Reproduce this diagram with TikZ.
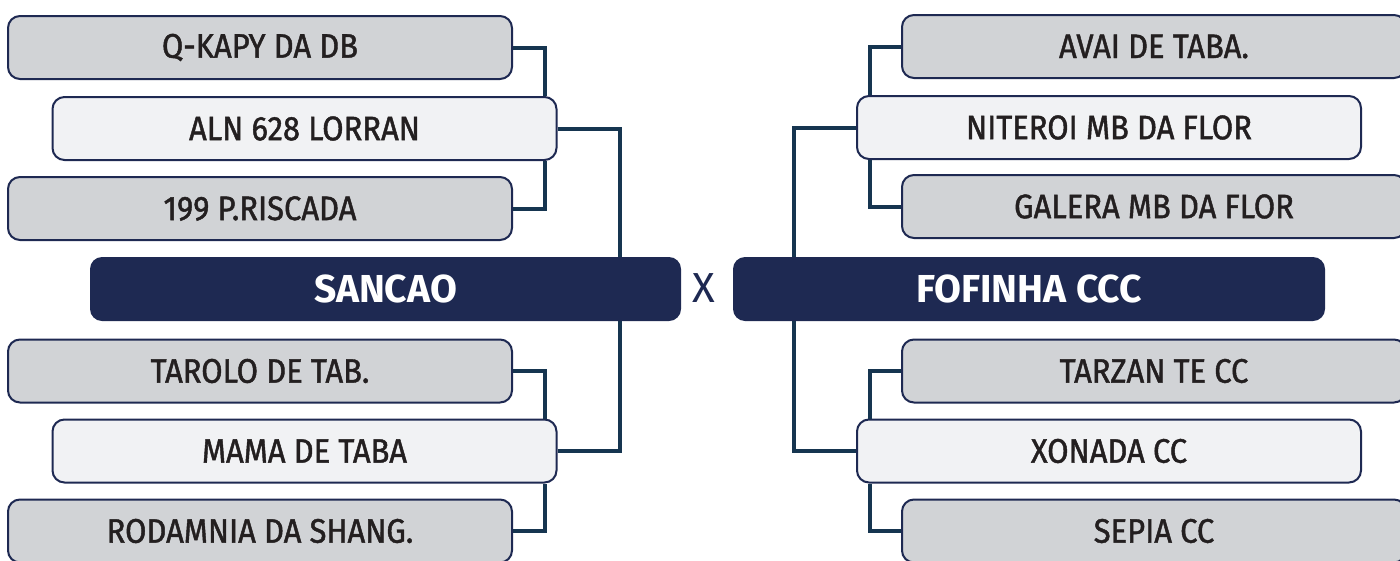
\documentclass[tikz,border=0pt]{standalone}
\usepackage{fontspec}
\setmainfont{Fira Sans}
\newfontfamily\teamfont[FakeStretch=0.91,FakeBold=1.3]{Fira Sans}
\newfontfamily\headfont[FakeStretch=1.0]{Fira Sans}
\definecolor{navy}{HTML}{1E2952}
\definecolor{wire}{HTML}{163550}
\definecolor{grayfill}{HTML}{D1D3D6}
\definecolor{lightfill}{HTML}{F1F2F4}
\definecolor{ink}{HTML}{231F20}
\begin{document}
\begin{tikzpicture}[x=1pt,y=-1pt,
    team/.style={rounded corners=12pt,draw=navy,line width=2pt,
      minimum width=504pt,minimum height=63pt,inner sep=0pt,text=ink,
      font=\teamfont\fontsize{34}{37}\selectfont},
    hv/.style={to path={-| (\tikztotarget)}}]

        \useasboundingbox (0,0) rectangle (1400,560);
        \clip (0,0) rectangle (1400,560);

        \begin{scope}[every node/.style={team,fill=grayfill}]
          \node (0)  at (260,47.5)  {Q-KAPY DA DB};
          \node (2)  at (260,208.5) {199 P.RISCADA};
          \node (3)  at (260,371)   {TAROLO DE TAB.};
          \node (5)  at (260,531)   {RODAMNIA DA SHANG.};
          \node (6)  at (1154,46.5) {AVAI DE TABA.};
          \node (8)  at (1154,206.5) {GALERA MB DA FLOR};
          \node (9)  at (1154,371)  {TARZAN TE CC};
          \node (11) at (1154,531)  {SEPIA CC};
        \end{scope}

        \begin{scope}[every node/.style={team,fill=lightfill}]
          \node (1)  at (304.5,128.5) {ALN 628 LORRAN};
          \node (4)  at (304.5,451)   {MAMA DE TABA};
          \node (7)  at (1109,127.5)  {NITEROI MB DA FLOR};
          \node (10) at (1109,451)    {XONADA CC};
        \end{scope}

        \begin{scope}[every node/.style={rounded corners=12pt,fill=navy,
            minimum height=64pt,inner sep=0pt,text=white,
            font=\headfont\fontsize{39}{42}\selectfont\bfseries}]
          \node[minimum width=591pt] (S) at (385.5,289) {SANCAO};
          \node[minimum width=592pt] (F) at (1029,289)  {FOFINHA CCC};
        \end{scope}

        \node[text=navy,font=\fontsize{42}{46}\selectfont] (x) at (704,288) {X};

        \begin{scope}[every edge/.style={draw=wire,line width=4pt,hv}]
          \path (0.east)  edge ([xshift=-13]1.north east);
          \path (2.east)  edge ([xshift=-13]1.south east);
          \path (3.east)  edge ([xshift=-13]4.north east);
          \path (5.east)  edge ([xshift=-13]4.south east);
          \path (1.east)  edge ([xshift=-61]S.north east);
          \path (4.east)  edge ([xshift=-61]S.south east);
          \path (6.west)  edge ([xshift=14]7.north west);
          \path (8.west)  edge ([xshift=14]7.south west);
          \path (9.west)  edge ([xshift=14]10.north west);
          \path (11.west) edge ([xshift=14]10.south west);
          \path (7.west)  edge ([xshift=61]F.north west);
          \path (10.west) edge ([xshift=61]F.south west);
        \end{scope}

      \end{tikzpicture}
\end{document}
